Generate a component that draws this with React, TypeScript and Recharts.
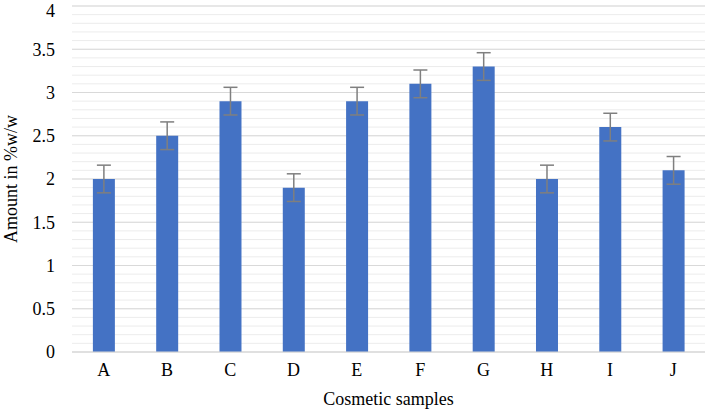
import { Bar, BarChart, CartesianGrid, ErrorBar, XAxis, YAxis } from "recharts"

const samples = ["A", "B", "C", "D", "E", "F", "G", "H", "I", "J"]
const amounts = [2.0, 2.5, 2.9, 1.9, 2.9, 3.1, 3.3, 2.0, 2.6, 2.1]
const errors = [0.16, 0.16, 0.16, 0.16, 0.16, 0.16, 0.16, 0.16, 0.16, 0.16]
const majorTicks = [0, 0.5, 1, 1.5, 2, 2.5, 3, 3.5, 4]
const minorTicks = Array.from({ length: 41 }, (_, i) => i / 10)
const yDomain = [0, 4]

const data = samples.map((s, i) => ({ sample: s, amount: amounts[i], err: errors[i] }))

const font = "'Liberation Serif', 'Times New Roman', serif"

// grid lines for a given set of values (linear y scale over yDomain)
const gridAt = (values: number[]) => (props: any) => {
  const { offset, yAxis } = props
  if (yAxis && typeof yAxis.scale === "function") return values.map((v) => yAxis.scale(v))
  const [lo, hi] = yDomain
  return values.map((v) => offset.top + offset.height * (1 - (v - lo) / (hi - lo)))
}

export default function App() {
  return (
    <div style={{ position: "absolute", left: 0, top: 0, width: 706, height: 409, background: "#fff", fontFamily: font }}>
      <style>{`svg text, .recharts-text, .recharts-label { font-family: ${font} !important; }`}</style>
      <BarChart width={706} height={409} data={data} margin={{ top: 6, right: 1, left: 0, bottom: 0 }} barCategoryGap="33%" style={{ fontFamily: font }}>
        <CartesianGrid vertical={false} horizontalCoordinatesGenerator={gridAt(minorTicks)} stroke="#ececec" strokeWidth={1} />
        <CartesianGrid vertical={false} horizontalCoordinatesGenerator={gridAt(majorTicks)} stroke="#d9d9d9" strokeWidth={1} />
        <XAxis
          dataKey="sample"
          height={57}
          axisLine={{ stroke: "#d9d9d9" }}
          tickLine={false}
          tickSize={0}
          tickMargin={11}
          tick={{ fill: "#000", fontSize: 18, fontFamily: font }}
          label={{ value: "Cosmetic samples", position: "insideBottom", offset: 4, fill: "#000", fontSize: 18, fontFamily: font }}
        />
        <YAxis
          domain={yDomain}
          ticks={majorTicks}
          width={72}
          axisLine={false}
          tickLine={false}
          tickSize={0}
          tickMargin={17}
          tick={{ fill: "#000", fontSize: 18, fontFamily: font }}
          label={{ value: "Amount in %w/w", angle: -90, position: "insideLeft", offset: 11, fill: "#000", fontSize: 18, fontFamily: font, style: { textAnchor: "middle" } }}
        />
        <Bar dataKey="amount" fill="#4472c4" isAnimationActive={false}>
          <ErrorBar dataKey="err" width={7} stroke="#7f7f7f" strokeWidth={1.5} direction="y" />
        </Bar>
      </BarChart>
    </div>
  )
}
